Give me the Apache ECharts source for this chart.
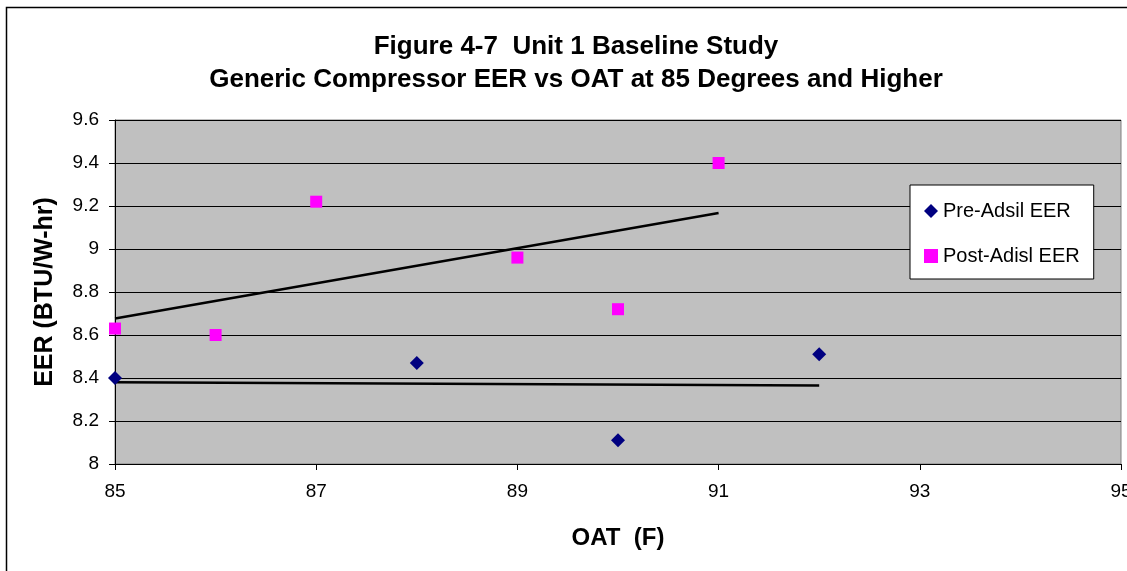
<!DOCTYPE html>
<html>
<head>
<meta charset="utf-8">
<script src="https://cdn.jsdelivr.net/npm/echarts@6/dist/echarts.min.js"></script>
<style>
html,body{margin:0;padding:0;background:#fff;}
#chart{width:1127px;height:571px;}
</style>
</head>
<body>
<div id="chart"></div>
<script>
// Outside air temperature (F) and measured EER for each test condition
const preOat = [85, 88, 90, 92];
const preEer = [8.40, 8.47, 8.11, 8.51];
const postOat = [85, 86, 87, 89, 90, 91];
const postEer = [8.63, 8.60, 9.22, 8.96, 8.72, 9.40];
const xTicks = [85, 87, 89, 91, 93, 95];
const yTicks = [8, 8.2, 8.4, 8.6, 8.8, 9, 9.2, 9.4, 9.6];

// Least-squares trend line spanning the data range of a series
function trend(xs, ys) {
  const n = xs.length;
  const mx = xs.reduce((a, b) => a + b, 0) / n;
  const my = ys.reduce((a, b) => a + b, 0) / n;
  let sxy = 0, sxx = 0;
  for (let i = 0; i < n; i++) { sxy += (xs[i] - mx) * (ys[i] - my); sxx += (xs[i] - mx) ** 2; }
  const m = sxy / sxx, b = my - m * mx;
  const x0 = Math.min(...xs), x1 = Math.max(...xs);
  return [[x0, m * x0 + b], [x1, m * x1 + b]];
}

const font = 'Arial, "Liberation Sans", sans-serif';
const chart = echarts.init(document.getElementById('chart'), null, { renderer: 'canvas' });
chart.setOption({
  backgroundColor: '#fff',
  animation: false,
  title: {
    text: 'Figure 4-7  Unit 1 Baseline Study\nGeneric Compressor EER vs OAT at 85 Degrees and Higher',
    left: 571, top: 25, textAlign: 'center',
    textStyle: { fontFamily: font, fontSize: 26, fontWeight: 'bold', color: '#000', lineHeight: 33 }
  },
  graphic: [{
    type: 'rect', shape: { x: 6.5, y: 7.5, width: 1130, height: 580 },
    style: { fill: 'none', stroke: '#000', lineWidth: 1.5 }, silent: true, z: 100
  }],
  legend: {
    orient: 'vertical', left: 910, top: 185,
    padding: [16, 14, 13, 14], itemGap: 25, itemWidth: 14, itemHeight: 14,
    backgroundColor: '#fff', borderColor: '#000', borderWidth: 1,
    textStyle: { fontFamily: font, fontSize: 20, color: '#000' },
    data: [
      { name: 'Pre-Adsil EER', icon: 'diamond' },
      { name: 'Post-Adisl EER', icon: 'rect', itemStyle: { borderWidth: 0 } }
    ]
  },
  grid: { left: 115, right: 6, top: 120, bottom: 107, outerBoundsMode: 'none', containLabel: false,
    show: true, backgroundColor: '#C0C0C0', borderColor: '#808080', borderWidth: 1 },
  xAxis: {
    type: 'value', min: 85, max: 95, interval: 2,
    name: 'OAT  (F)', nameLocation: 'middle', nameGap: 62,
    nameTextStyle: { fontFamily: font, fontSize: 24, fontWeight: 'bold', color: '#000' },
    axisLine: { onZero: false, lineStyle: { color: '#000', width: 1 } },
    axisTick: { show: true, length: 6, lineStyle: { color: '#000' } },
    axisLabel: { fontFamily: font, fontSize: 19, color: '#000', margin: 18, hideOverlap: false,
      formatter: v => xTicks.includes(v) ? String(v) : '' },
    splitLine: { show: false }
  },
  yAxis: {
    type: 'value', min: 8, max: 9.6, interval: 0.2,
    name: 'EER (BTU/W-hr)', nameLocation: 'middle', nameGap: 57,
    nameTextStyle: { fontFamily: font, fontSize: 25, fontWeight: 'bold', color: '#000' },
    axisLine: { onZero: false, lineStyle: { color: '#000', width: 1 } },
    axisTick: { show: true, length: 6, lineStyle: { color: '#000' } },
    axisLabel: { fontFamily: font, fontSize: 19, color: '#000', margin: 16,
      formatter: v => {
        const t = yTicks.find(k => Math.abs(k - v) < 1e-6);
        return t === undefined ? '' : String(t);
      } },
    splitLine: { show: true, lineStyle: { color: '#000', width: 1 } }
  },
  series: [
    {
      name: 'Pre-Adsil EER', type: 'scatter', symbol: 'diamond', symbolSize: 14,
      itemStyle: { color: '#000080', opacity: 1 },
      data: preOat.map((x, i) => [x, preEer[i]]), z: 5
    },
    {
      name: 'Post-Adisl EER', type: 'scatter', symbol: 'rect', symbolSize: 12,
      itemStyle: { color: '#FF00FF', opacity: 1 },
      data: postOat.map((x, i) => [x, postEer[i]]), z: 5
    },
    {
      name: 'Pre trend', type: 'line', symbol: 'none', silent: true,
      lineStyle: { color: '#000', width: 2.5 }, data: trend(preOat, preEer), z: 4
    },
    {
      name: 'Post trend', type: 'line', symbol: 'none', silent: true,
      lineStyle: { color: '#000', width: 2.5 }, data: trend(postOat, postEer), z: 4
    }
  ]
});
</script>
</body>
</html>
